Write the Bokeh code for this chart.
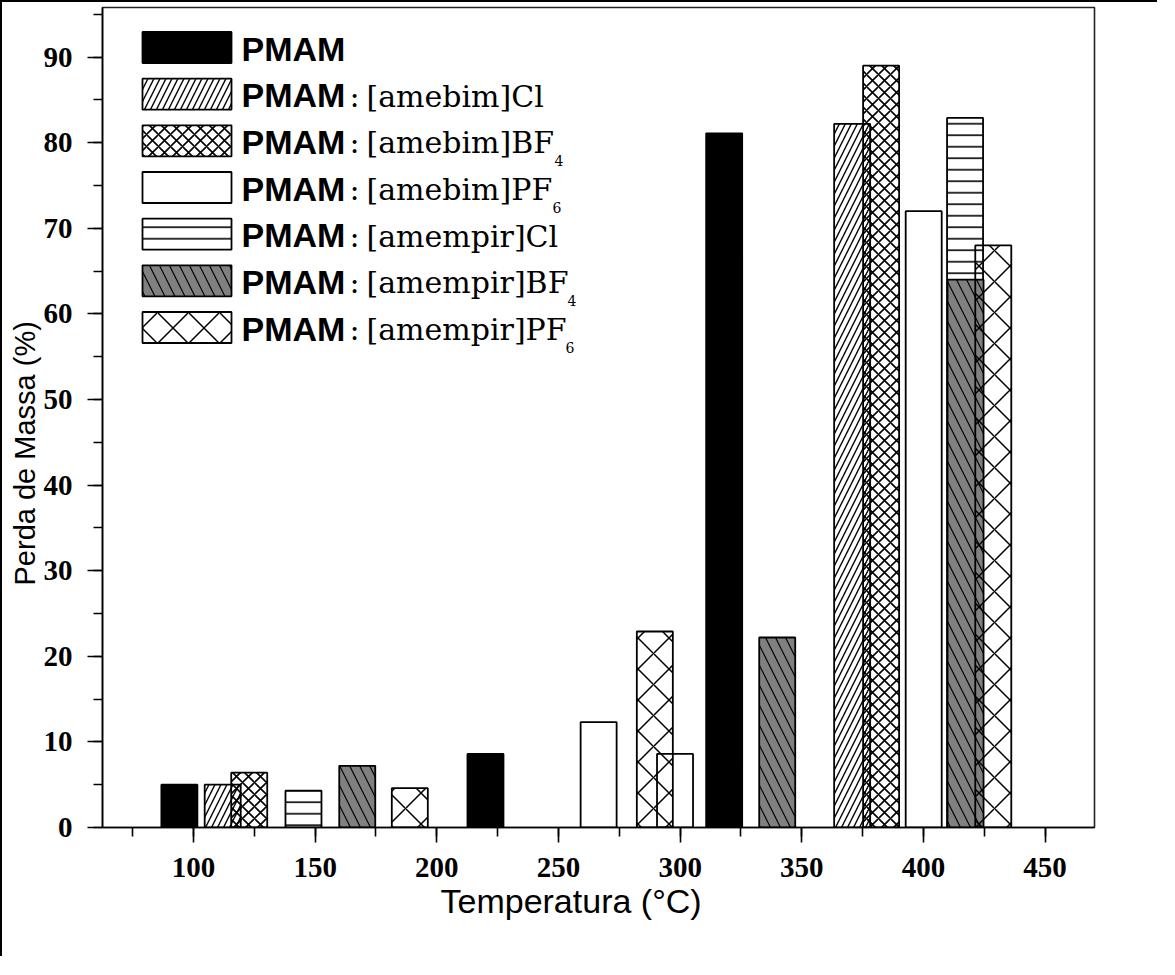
from bokeh.plotting import figure
from bokeh.models import Label, SingleIntervalTicker, Title
from bokeh.embed import file_html
from bokeh.resources import INLINE

# ---------------- data ----------------
series = ["PMAM", "PMAM:[amebim]Cl", "PMAM:[amebim]BF4", "PMAM:[amebim]PF6",
          "PMAM:[amempir]Cl", "PMAM:[amempir]BF4", "PMAM:[amempir]PF6"]

pmam_x = [94.2, 220.0, 318.1]
pmam_y = [5.0, 8.6, 81.1]
amebim_cl_x = [112.0, 370.7]
amebim_cl_y = [5.0, 82.2]
amebim_bf4_x = [122.9, 382.6]
amebim_bf4_y = [6.4, 89.0]
amebim_pf6_x = [266.5, 297.9, 400.1]
amebim_pf6_y = [12.3, 8.6, 72.0]
amempir_cl_x = [145.2, 417.1]
amempir_cl_y = [4.3, 82.9]
amempir_bf4_x = [167.3, 339.9, 417.3]
amempir_bf4_y = [7.2, 22.2, 64.0]
amempir_pf6_x = [188.9, 289.6, 428.7]
amempir_pf6_y = [4.6, 22.9, 68.0]

xs = [pmam_x, amebim_cl_x, amebim_bf4_x, amebim_pf6_x, amempir_cl_x, amempir_bf4_x, amempir_pf6_x]
ys = [pmam_y, amebim_cl_y, amebim_bf4_y, amebim_pf6_y, amempir_cl_y, amempir_bf4_y, amempir_pf6_y]

BAR_W = 14.8

# legend text parts: (anion base, subscript)
anion = [None, ("[amebim]Cl", ""), ("[amebim]BF", "4"), ("[amebim]PF", "6"),
         ("[amempir]Cl", ""), ("[amempir]BF", "4"), ("[amempir]PF", "6")]

x_title = "Temperatura (°C)"
y_title = "Perda de Massa (%)"

# ---------------- styles ----------------
styles = [
    dict(fill_color="black", line_color="black"),
    dict(fill_color="white", line_color="black", hatch_pattern="/", hatch_scale=12, hatch_weight=1.4, hatch_color="black"),
    dict(fill_color=None, fill_alpha=0, line_color="black", hatch_pattern="x", hatch_scale=12, hatch_weight=1.6, hatch_color="black"),
    dict(fill_color="white", line_color="black"),
    dict(fill_color="white", line_color="black", hatch_pattern="-", hatch_scale=11.5, hatch_weight=1.6, hatch_color="black"),
    dict(fill_color="#808080", line_color="black", hatch_pattern="\\", hatch_scale=20, hatch_weight=1.2, hatch_color="black"),
    dict(fill_color=None, fill_alpha=0, line_color="black", hatch_pattern="x", hatch_scale=31, hatch_weight=1.5, hatch_color="black"),
]

# ---------------- layout (page pixels) ----------------
X0, X1 = 62.6, 470.3
Y0, Y1 = 0.0, 95.8
FL, FR, FT, FB = 110, 1102, 15, 835
CANVAS = 10          # page offset of the canvas (8px margin + 2px border)
W, H = 1157, 956

def dx(px):
    return X0 + (px - FL) * (X1 - X0) / (FR - FL)

def dy(py):
    return Y1 - (py - FT) * (Y1 - Y0) / (FB - FT)

p = figure(width=W, height=H, x_range=(X0, X1), y_range=(Y0, Y1),
           output_backend="svg", toolbar_location=None,
           min_border_left=FL - CANVAS, min_border_top=FT - CANVAS,
           min_border_right=W + CANVAS - FR, min_border_bottom=H + CANVAS - FB)
p.styles = {"border-left": "2px solid black", "border-top": "2px solid black"}
p.background_fill_color = "white"
p.border_fill_color = "white"
p.outline_line_color = "#222222"
p.outline_line_width = 1.6
p.xgrid.visible = False
p.ygrid.visible = False

for x, y, st in zip(xs, ys, styles):
    p.vbar(x=x, top=y, bottom=0, width=BAR_W, line_width=1.8, **st)

# axes
p.xaxis.ticker = SingleIntervalTicker(interval=50, num_minor_ticks=2)
p.yaxis.ticker = SingleIntervalTicker(interval=10, num_minor_ticks=2)
for ax in (p.xaxis[0], p.yaxis[0]):
    ax.axis_line_color = "black"
    ax.axis_line_width = 1.6
    ax.major_tick_line_color = "black"
    ax.major_tick_line_width = 1.6
    ax.minor_tick_line_color = "black"
    ax.minor_tick_line_width = 1.6
    ax.major_tick_out = 15
    ax.major_tick_in = 0
    ax.minor_tick_out = 9
    ax.minor_tick_in = 0
    ax.major_label_text_font = "Liberation Serif"
    ax.major_label_text_font_style = "bold"
    ax.major_label_text_font_size = "29px"
    ax.major_label_text_color = "black"
p.xaxis.major_label_standoff = 15
p.yaxis.major_label_standoff = 15

# axis titles (placed as titles so they can sit off-centre like the original)
p.add_layout(Title(text=x_title, align="left", offset=338, standoff=0,
                   text_font="Liberation Sans", text_font_style="normal",
                   text_font_size="34px", text_color="black"), "below")
p.add_layout(Title(text=y_title, align="left", offset=242, standoff=0,
                   text_font="Liberation Sans", text_font_style="normal",
                   text_font_size="29px", text_color="black"), "left")

# legend
sub_x = [None, None, 562, 560, None, 575, 573]
for i, st in enumerate(styles):
    cy = 55 + 46.67 * i
    p.quad(left=dx(150), right=dx(239), top=dy(cy - 15.5), bottom=dy(cy + 15.5),
           line_width=1.8, **st)
    p.add_layout(Label(x=dx(249), y=dy(cy + 1), text=series[i].split(":")[0], text_align="left",
                       text_baseline="middle", text_font="Liberation Sans",
                       text_font_style="bold", text_font_size="34px", text_color="black"))
    if anion[i] is not None:
        base, sub = anion[i]
        p.add_layout(Label(x=dx(357), y=dy(cy + 2), text=":", text_align="left",
                           text_baseline="middle", text_font="DejaVu Serif",
                           text_font_size="30px", text_color="black"))
        p.add_layout(Label(x=dx(374), y=dy(cy + 2), text=base, text_align="left",
                           text_baseline="middle", text_font="DejaVu Serif",
                           text_font_size="30px", text_color="black"))
        if sub:
            p.add_layout(Label(x=dx(sub_x[i]), y=dy(cy + 20), text=sub, text_align="left",
                               text_baseline="middle", text_font="DejaVu Serif",
                               text_font_size="14px", text_color="black"))

open("out.html", "w").write(file_html(p, INLINE))
